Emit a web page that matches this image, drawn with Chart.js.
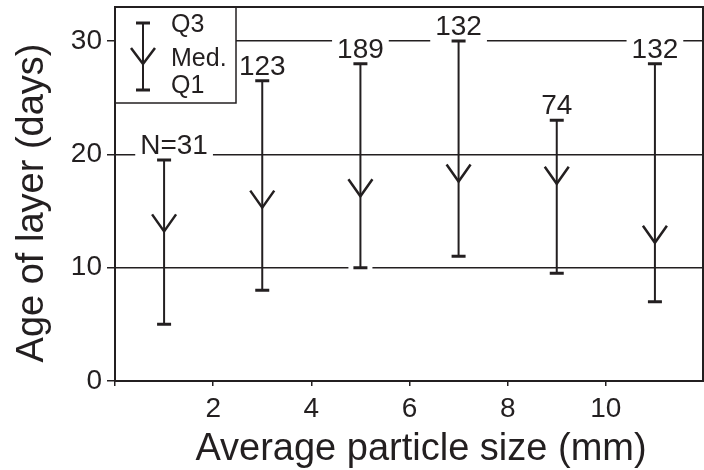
<!DOCTYPE html>
<html>
<head>
<meta charset="utf-8">
<script src="https://cdn.jsdelivr.net/npm/chart.js@4"></script>
<style>
  html, body { margin: 0; padding: 0; background: #fff; }
  #wrap { width: 704px; height: 470px; }
</style>
</head>
<body>
<div id="wrap"><canvas id="grafico" width="704" height="470"></canvas></div>
<script>
// data
const sizes = [1, 3, 5, 7, 9, 11];
const q1 = [5, 8, 10, 11, 9.5, 7];
const q3 = [19.5, 26.5, 28, 30, 23, 28];
const medians = [13.2, 15.3, 16.3, 17.6, 17.4, 12.2];
const counts = ['N=31', '123', '189', '132', '74', '132'];
const yTickValues = [0, 10, 20, 30];
const xTickValues = [0, 2, 4, 6, 8, 10];

const ink = '#231f20';
const fontName = '"Liberation Sans", Arial, sans-serif';

// whiskers, median arrows, N labels, legend box, axis titles
const whiskerPlugin = {
  id: 'whiskers',
  afterDatasetsDraw(chart) {
    const ctx = chart.ctx;
    const x = chart.scales.x, y = chart.scales.y;
    ctx.save();
    ctx.font = '28px ' + fontName;

    // white backing behind caps and labels (breaks the grid lines)
    ctx.fillStyle = '#fff';
    sizes.forEach(function(s, i) {
      const px = x.getPixelForValue(s);
      const top = y.getPixelForValue(q3[i]);
      const bot = y.getPixelForValue(q1[i]);
      ctx.fillRect(px - 12, bot - 3, 24, 6);
      ctx.fillRect(px - 12, top - 3, 24, 6);
      const lx = px + (i === 0 ? 10 : 0);
      const base = top - 6;
      const w = ctx.measureText(counts[i]).width;
      ctx.fillRect(lx - w / 2 - 5, base - 23, w + 10, 32);
    });

    ctx.strokeStyle = ink;
    ctx.fillStyle = ink;
    ctx.lineCap = 'butt';
    sizes.forEach(function(s, i) {
      const px = x.getPixelForValue(s);
      const top = y.getPixelForValue(q3[i]);
      const bot = y.getPixelForValue(q1[i]);
      const med = y.getPixelForValue(medians[i]);
      ctx.lineWidth = 2;
      ctx.beginPath();
      ctx.moveTo(px, top);
      ctx.lineTo(px, bot);
      ctx.stroke();
      ctx.lineWidth = 3;
      ctx.beginPath();
      ctx.moveTo(px - 7, top); ctx.lineTo(px + 7, top);
      ctx.moveTo(px - 7, bot); ctx.lineTo(px + 7, bot);
      ctx.stroke();
      ctx.lineWidth = 2.5;
      ctx.beginPath();
      ctx.moveTo(px - 12, med - 17);
      ctx.lineTo(px, med);
      ctx.lineTo(px + 12, med - 17);
      ctx.stroke();
      // count label
      const lx = px + (i === 0 ? 10 : 0);
      ctx.textAlign = 'center';
      ctx.textBaseline = 'alphabetic';
      ctx.fillText(counts[i], lx, top - 6);
    });

    // legend
    const area = chart.chartArea;
    ctx.fillStyle = '#fff';
    ctx.fillRect(area.left, area.top, 121, 96);
    ctx.lineWidth = 1.5;
    ctx.strokeRect(area.left, area.top, 121, 96);
    const gx = 143;
    ctx.lineWidth = 2;
    ctx.beginPath();
    ctx.moveTo(gx, 23); ctx.lineTo(gx, 90);
    ctx.stroke();
    ctx.lineWidth = 3;
    ctx.beginPath();
    ctx.moveTo(gx - 7, 23); ctx.lineTo(gx + 7, 23);
    ctx.moveTo(gx - 7, 90); ctx.lineTo(gx + 7, 90);
    ctx.stroke();
    ctx.lineWidth = 2.5;
    ctx.beginPath();
    ctx.moveTo(gx - 12, 48); ctx.lineTo(gx, 64); ctx.lineTo(gx + 12, 48);
    ctx.stroke();
    ctx.fillStyle = ink;
    ctx.font = '25px ' + fontName;
    ctx.textAlign = 'left';
    ctx.fillText('Q3', 171, 32);
    ctx.fillText('Med.', 171, 66);
    ctx.fillText('Q1', 171, 93);
    ctx.restore();
  },
  afterDraw(chart) {
    const ctx = chart.ctx;
    const area = chart.chartArea;
    ctx.save();
    ctx.strokeStyle = ink;
    ctx.lineWidth = 2;
    ctx.strokeRect(area.left, area.top, area.right - area.left - 1, area.bottom - area.top);
    // axis titles
    ctx.fillStyle = ink;
    ctx.font = '38px ' + fontName;
    ctx.textAlign = 'center';
    ctx.textBaseline = 'alphabetic';
    ctx.fillText('Average particle size (mm)', 421, 460);
    ctx.translate(43, 203);
    ctx.rotate(-Math.PI / 2);
    ctx.fillText('Age of layer (days)', 0, 0);
    ctx.restore();
  }
};

document.addEventListener("DOMContentLoaded", function() {
  var ctx = document.getElementById('grafico').getContext('2d');
  new Chart(ctx, {
    type: 'scatter',
    data: {
      datasets: [{
        label: 'Med.',
        data: sizes.map(function(s, i) { return { x: s, y: medians[i] }; }),
        pointRadius: 0,
        showLine: false
      }]
    },
    options: {
      responsive: false,
      animation: false,
      layout: { padding: { top: 7, right: 0, left: 0, bottom: 0 } },
      plugins: {
        legend: { display: false },
        tooltip: { enabled: false }
      },
      scales: {
        x: {
          type: 'linear',
          min: 0,
          max: 12,
          afterBuildTicks: function(scale) {
            scale.ticks = xTickValues.map(function(v) { return { value: v }; });
          },
          afterFit: function(scale) {
            scale.height = 89;
            scale.paddingLeft = 0;
            scale.paddingRight = 0;
          },
          border: { display: false },
          grid: { drawOnChartArea: false, color: ink, lineWidth: 1.5, tickLength: 5 },
          ticks: {
            color: ink,
            padding: 6,
            maxRotation: 0,
            font: { family: fontName, size: 28 },
            callback: function(v) { return v === 0 ? '' : v; }
          }
        },
        y: {
          min: 0,
          max: 33,
          afterBuildTicks: function(scale) {
            scale.ticks = yTickValues.map(function(v) { return { value: v }; });
          },
          afterFit: function(scale) {
            scale.width = 115;
            scale.paddingTop = 0;
            scale.paddingBottom = 0;
          },
          border: { display: false },
          grid: { color: ink, lineWidth: 1.5, tickLength: 8 },
          ticks: {
            color: ink,
            padding: 5,
            font: { family: fontName, size: 28 }
          }
        }
      }
    },
    plugins: [whiskerPlugin]
  });
});
</script>
</body>
</html>
